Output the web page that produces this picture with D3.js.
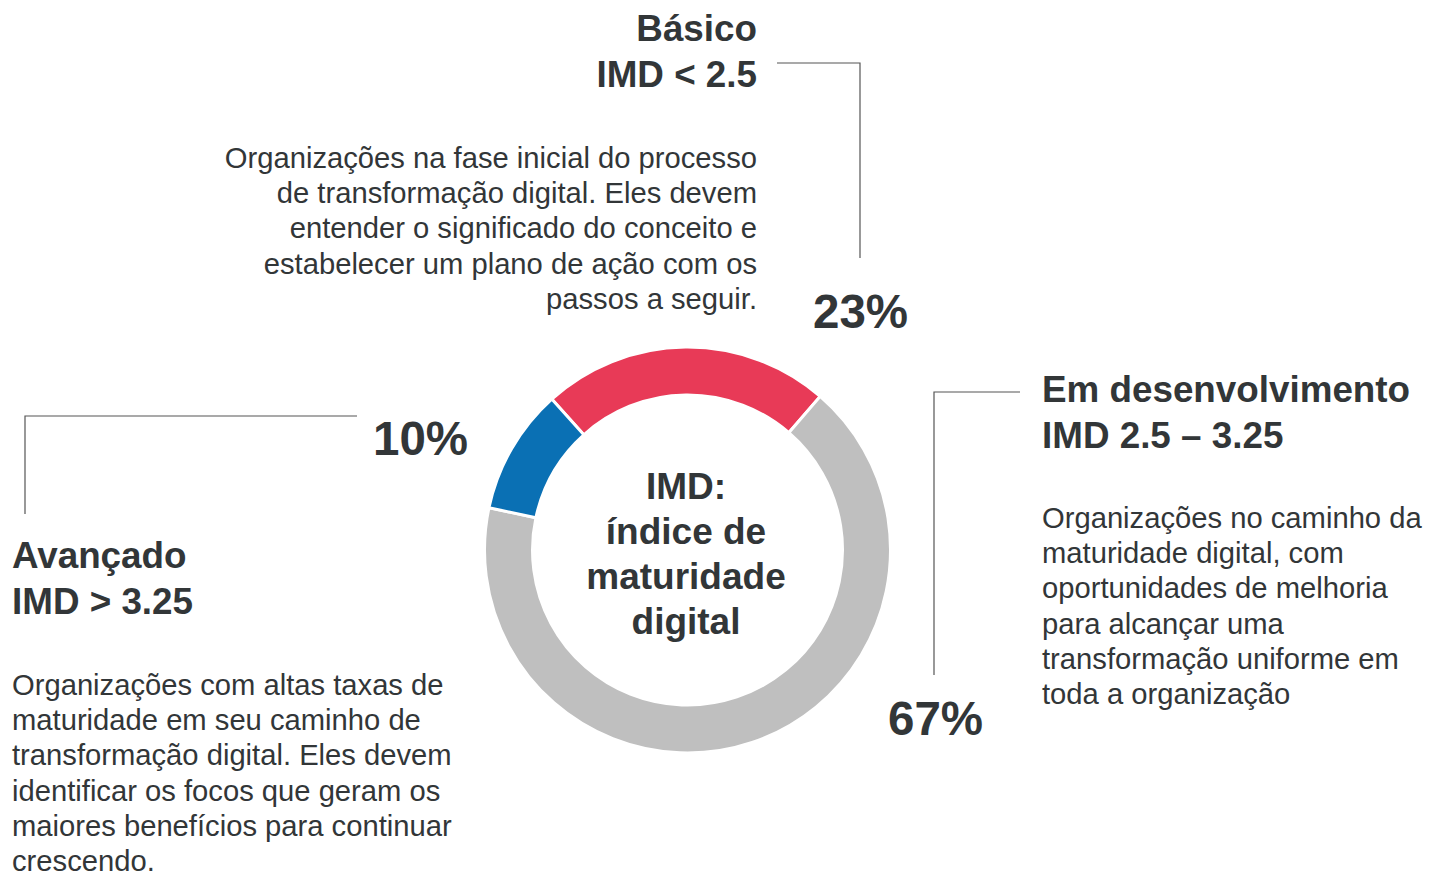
<!DOCTYPE html>
<html>
<head>
<meta charset="utf-8">
<script src="https://cdn.jsdelivr.net/npm/d3@7"></script>
<style>
  body { margin: 0; background: #fff; }
  svg { display: block; font-family: "Liberation Sans", Arial, sans-serif; }
  .title { font-weight: bold; font-size: 36.8px; fill: #323638; }
  .body { font-size: 29.2px; fill: #323638; }
  .pct { font-weight: bold; font-size: 47.5px; fill: #323638; }
  .center { font-weight: bold; font-size: 37px; fill: #323638; }
  .leader { fill: none; stroke: #555; stroke-width: 1.2; }
</style>
</head>
<body>
<div id="chart"></div>
<script>
(function(){
  // data
  const categories = ["Básico", "Em desenvolvimento", "Avançado"];
  const values = [23, 67, 10];
  const colors = ["#e83a57", "#bfbfbf", "#0a70b4"];
  const subtitles = ["IMD < 2.5", "IMD 2.5 – 3.25", "IMD > 3.25"];
  const descriptions = [
    ["Organizações na fase inicial do processo",
     "de transformação digital. Eles devem",
     "entender o significado do conceito e",
     "estabelecer um plano de ação com os",
     "passos a seguir."],
    ["Organizações no caminho da",
     "maturidade digital, com",
     "oportunidades de melhoria",
     "para alcançar uma",
     "transformação uniforme em",
     "toda a organização"],
    ["Organizações com altas taxas de",
     "maturidade em seu caminho de",
     "transformação digital. Eles devem",
     "identificar os focos que geram os",
     "maiores benefícios para continuar",
     "crescendo."]
  ];
  const centerLines = ["IMD:", "índice de", "maturidade", "digital"];

  const width = 1430, height = 875;
  const cx = 687.5, cy = 550;
  const outerR = 203, innerR = 155;

  const svg = d3.select("#chart").append("svg")
    .attr("width", width)
    .attr("height", height);

  // donut, first slice roughly centred on top
  const total = d3.sum(values);
  const start = -(values[0] / 2) / total * 2 * Math.PI - 0.01;
  const pie = d3.pie().sort(null)
    .startAngle(start)
    .endAngle(start + 2 * Math.PI);
  const arc = d3.arc().innerRadius(innerR).outerRadius(outerR);

  const g = svg.append("g").attr("transform", `translate(${cx},${cy})`);
  g.selectAll("path")
    .data(pie(values))
    .enter().append("path")
    .attr("d", arc)
    .attr("fill", (d, i) => colors[i])
    .attr("stroke", "#fff")
    .attr("stroke-width", 3);

  // centre text
  g.selectAll(".center")
    .data(centerLines)
    .enter().append("text")
    .attr("class", "center")
    .attr("text-anchor", "middle")
    .attr("x", -1.5)
    .attr("y", (d, i) => -51 + i * 45)
    .text(d => d);

  // label layout per category (positions only)
  const layout = [
    { anchor: "end", x: 757, titleY: 41, bodyY: 168, pct: [813, 328],
      leader: [[777, 63], [860, 63], [860, 258]] },
    { anchor: "start", x: 1042, titleY: 402, bodyY: 528, pct: [888, 735],
      leader: [[1020, 392], [934, 392], [934, 675]] },
    { anchor: "start", x: 12, titleY: 568, bodyY: 695, pct: [373, 455],
      leader: [[357, 416], [25, 416], [25, 514]] }
  ];

  const line = d3.line();

  categories.forEach((c, i) => {
    const L = layout[i];
    svg.append("path").attr("class", "leader").attr("d", line(L.leader));

    svg.append("text").attr("class", "title")
      .attr("text-anchor", L.anchor)
      .attr("x", L.x).attr("y", L.titleY)
      .text(c);
    svg.append("text").attr("class", "title")
      .attr("text-anchor", L.anchor)
      .attr("x", L.x).attr("y", L.titleY + 46)
      .text(subtitles[i]);

    svg.append("g").selectAll("text")
      .data(descriptions[i])
      .enter().append("text")
      .attr("class", "body")
      .attr("text-anchor", L.anchor)
      .attr("x", L.x)
      .attr("y", (d, j) => L.bodyY + j * 35.2)
      .text(d => d);

    svg.append("text").attr("class", "pct")
      .attr("x", L.pct[0]).attr("y", L.pct[1])
      .text(values[i] + "%");
  });
})();
</script>
</body>
</html>
